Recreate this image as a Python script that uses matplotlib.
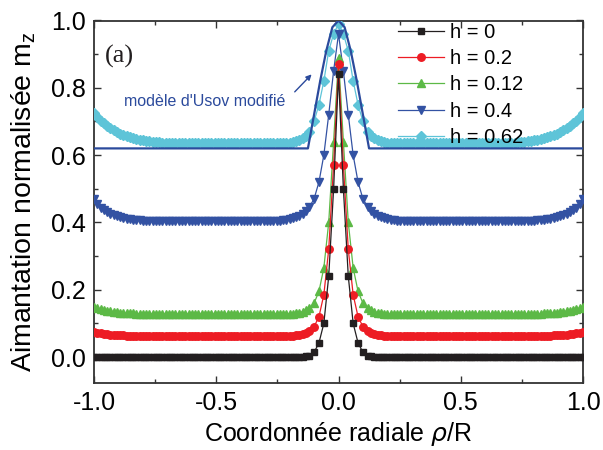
import numpy as np
import matplotlib
matplotlib.use('Agg')
import matplotlib.pyplot as plt
from matplotlib.ticker import MultipleLocator

plt.rcParams['font.family'] = ['Liberation Sans', 'DejaVu Sans']

# half profiles (curves are symmetric in rho): coarse steps at the core,
# finer mesh from 0.12 out to the disk edge
rho_core = [0.0, 0.02, 0.04, 0.06, 0.08, 0.10]
rho_outer = np.linspace(0.12, 1.0, 67)
rho_half = np.concatenate([rho_core, rho_outer])

mz_h0 = ([0.84, 0.50, 0.24, 0.10, 0.042, 0.014]
         + [0.004, 0.002, 0.001] + [0.0] * 64)
mz_h02 = ([0.87, 0.57, 0.32, 0.185, 0.12, 0.09]
          + [0.078, 0.073, 0.069, 0.067, 0.065, 0.064, 0.063]
          + [0.062] * 44 + [0.063] * 3 + [0.064] * 3 + [0.065] * 3
          + [0.066, 0.067, 0.068, 0.069, 0.071, 0.073, 0.076])
mz_h012 = ([0.89, 0.64, 0.40, 0.265, 0.195, 0.16]
           + [0.145, 0.139, 0.135, 0.132, 0.130, 0.129]
           + [0.128] * 45 + [0.129] * 3 + [0.130] * 3 + [0.131, 0.132, 0.133]
           + [0.135, 0.136, 0.138, 0.140, 0.142, 0.146, 0.150])
mz_h04 = ([0.96, 0.85, 0.72, 0.60, 0.52, 0.47]
          + [0.445, 0.434, 0.426, 0.420, 0.416, 0.412, 0.410, 0.408, 0.406, 0.405, 0.404]
          + [0.403] * 38
          + [0.404, 0.404, 0.405, 0.406, 0.407, 0.408, 0.409, 0.411, 0.413,
             0.415, 0.418, 0.421, 0.425, 0.430, 0.436, 0.444, 0.455, 0.470])
mz_h062 = ([0.99, 0.96, 0.91, 0.82, 0.75, 0.70]
           + [0.670, 0.658, 0.650, 0.645, 0.641, 0.639, 0.637, 0.636]
           + [0.635] * 34
           + [0.636, 0.636, 0.637, 0.637, 0.638, 0.639, 0.640, 0.641, 0.642,
              0.644, 0.646, 0.648, 0.650, 0.653, 0.656, 0.660, 0.664, 0.669,
              0.674, 0.680, 0.687, 0.694, 0.702, 0.712, 0.725])

# modified Usov model (solid line)
usov_rho = [-1.0, -0.125, -0.10, -0.075, -0.05, -0.025, 0.0, 0.025, 0.05, 0.075, 0.10, 0.125, 1.0]
usov_mz = [0.62, 0.62, 0.72, 0.82, 0.91, 0.98, 1.0, 0.98, 0.91, 0.82, 0.72, 0.62, 0.62]

labels = ['h = 0', 'h = 0.2', 'h = 0.12', 'h = 0.4', 'h = 0.62']
colors = ['#231f20', '#ed1c24', '#5cb946', '#3352a3', '#5ec4d8']
markers = ['s', 'o', '^', 'v', 'D']
msizes = [4.6, 5.4, 6.0, 6.0, 5.0]


def full(half):
    half = np.asarray(half, dtype=float)
    return np.concatenate([half[:0:-1], half])


rho = np.concatenate([-rho_half[:0:-1], rho_half])
series = [mz_h0, mz_h02, mz_h012, mz_h04, mz_h062]

fig = plt.figure(figsize=(6.03, 4.5), dpi=100)
ax = fig.add_axes([94 / 603, 1 - 383 / 450, 489 / 603, 362.5 / 450])

handles = [None] * 5
for i in range(4, -1, -1):
    ln, = ax.plot(rho, full(series[i]), '-', color=colors[i], lw=0.9,
                  marker=markers[i], ms=msizes[i], mec=colors[i], mfc=colors[i],
                  zorder=3 + (4 - i))
    handles[i] = ln
    if i == 4:
        ax.plot(usov_rho, usov_mz, '-', color='#2b4a9c', lw=1.6, zorder=3.5)

ax.set_xlim(-1.0, 1.0)
ax.set_ylim(-0.077, 1.0)
ax.xaxis.set_major_locator(MultipleLocator(0.5))
ax.xaxis.set_minor_locator(MultipleLocator(0.25))
ax.yaxis.set_major_locator(MultipleLocator(0.2))
ax.yaxis.set_minor_locator(MultipleLocator(0.1))
ax.xaxis.set_major_formatter(plt.FuncFormatter(lambda v, p: f'{v:.1f}'))
ax.yaxis.set_major_formatter(plt.FuncFormatter(lambda v, p: f'{v:.1f}'))
ax.tick_params(which='both', direction='in', top=True, right=True,
               color='#333333', width=1.0)
ax.tick_params(which='major', length=5, labelsize=18, pad=6)
ax.tick_params(which='minor', length=3)
for s in ax.spines.values():
    s.set_linewidth(1.3)
    s.set_color('#333333')

ax.set_xlabel(r'Coordonnée radiale $\rho$/R', fontsize=18, labelpad=3)
ax.set_ylabel(r'Aimantation normalisée m$_\mathregular{z}$', fontsize=20.5, labelpad=9)

ax.text(0.022, 0.9, '(a)', transform=ax.transAxes, fontsize=19,
        family='Liberation Serif', va='center', ha='left', color='#231f20')

ax.text(-0.877, 0.758, "modèle d'Usov modifié", fontsize=11.5, color='#2b4a9c',
        va='center', ha='left')
ax.annotate('', xy=(-0.11, 0.84), xytext=(-0.179, 0.788),
            arrowprops=dict(arrowstyle='-|>', color='#2b4a9c', lw=1.0,
                            mutation_scale=8, shrinkA=0, shrinkB=0))

fig.legend(handles, labels, loc='upper left', bbox_to_anchor=(398 / 603, 1 - 23 / 450),
           frameon=False, fontsize=14.5, handlelength=2.3, handletextpad=0.3,
           labelspacing=0.36, borderpad=0, borderaxespad=0)

fig.savefig('out.png', dpi=100, facecolor='white')
